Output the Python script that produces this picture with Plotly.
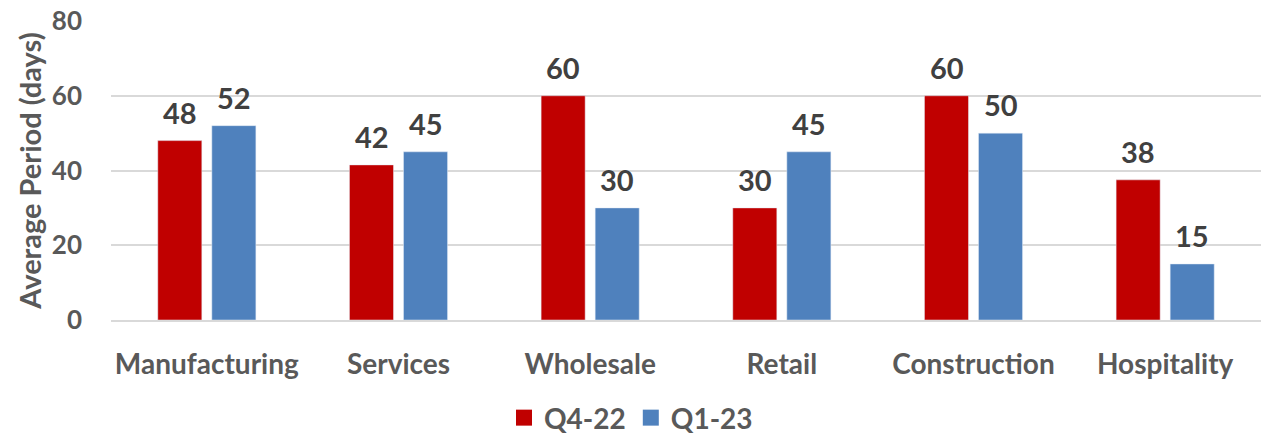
import plotly.graph_objects as go

categories = ["Manufacturing", "Services", "Wholesale", "Retail", "Construction", "Hospitality"]
q4_22 = [48, 41.5, 60, 30, 60, 37.5]
q1_23 = [52, 45, 30, 45, 50, 15]
q4_22_labels = ["48", "42", "60", "30", "60", "38"]
q1_23_labels = ["52", "45", "30", "45", "50", "15"]
y_ticks = [0, 20, 40, 60, 80]

FONT = "Lato"
LABEL_COLOR = "#404040"
AXIS_COLOR = "#595959"
RED = "#C00000"
BLUE = "#4F81BD"

fig = go.Figure()
fig.add_trace(go.Bar(name="Q4-22", x=categories, y=q4_22, marker_color=RED, showlegend=False))
fig.add_trace(go.Bar(name="Q1-23", x=categories, y=q1_23, marker_color=BLUE, showlegend=False))
# legend entries with larger square swatches
for name, color in (("Q4-22", RED), ("Q1-23", BLUE)):
    fig.add_trace(go.Scatter(name=name, x=[None], y=[None], mode="markers",
                             marker=dict(symbol="square", size=17, color=color)))

label_font = dict(family=FONT, size=29, color=LABEL_COLOR, weight="bold")
for values, labels, shift in ((q4_22, q4_22_labels, -27), (q1_23, q1_23_labels, 27)):
    for cat, val, lab in zip(categories, values, labels):
        fig.add_annotation(x=cat, y=val, text=lab, xref="x", yref="y",
                           xshift=shift, yshift=9, yanchor="bottom",
                           showarrow=False, font=label_font)

fig.update_layout(
    width=1262, height=434,
    margin=dict(l=111, r=1, t=21, b=114, autoexpand=False),
    plot_bgcolor="white", paper_bgcolor="white",
    barmode="group", bargap=0.436, bargroupgap=0.185,
    font=dict(family=FONT, color=AXIS_COLOR),
    legend=dict(
        orientation="h", xref="container", x=0.5, xanchor="center",
        yref="container", y=0.037, yanchor="middle",
        font=dict(family=FONT, size=28, color=AXIS_COLOR, weight="bold"),
        itemwidth=30, traceorder="normal",
    ),
    xaxis=dict(
        showgrid=False, showline=True, linecolor="#d9d9d9", linewidth=2,
        tickfont=dict(family=FONT, size=28, color=AXIS_COLOR, weight="bold"),
        ticks="", ticklabelstandoff=18,
    ),
    yaxis=dict(
        range=[0, 80], tickvals=y_ticks, showgrid=True, gridcolor="#d9d9d9", gridwidth=2,
        zeroline=False, ticks="",
        tickfont=dict(family=FONT, size=26, color=AXIS_COLOR, weight="bold"),
        ticklabelstandoff=28,
        title=dict(text="Average Period (days)", standoff=1,
                   font=dict(family=FONT, size=29, color=AXIS_COLOR, weight="bold")),
    ),
)

fig.write_html("out.html")
